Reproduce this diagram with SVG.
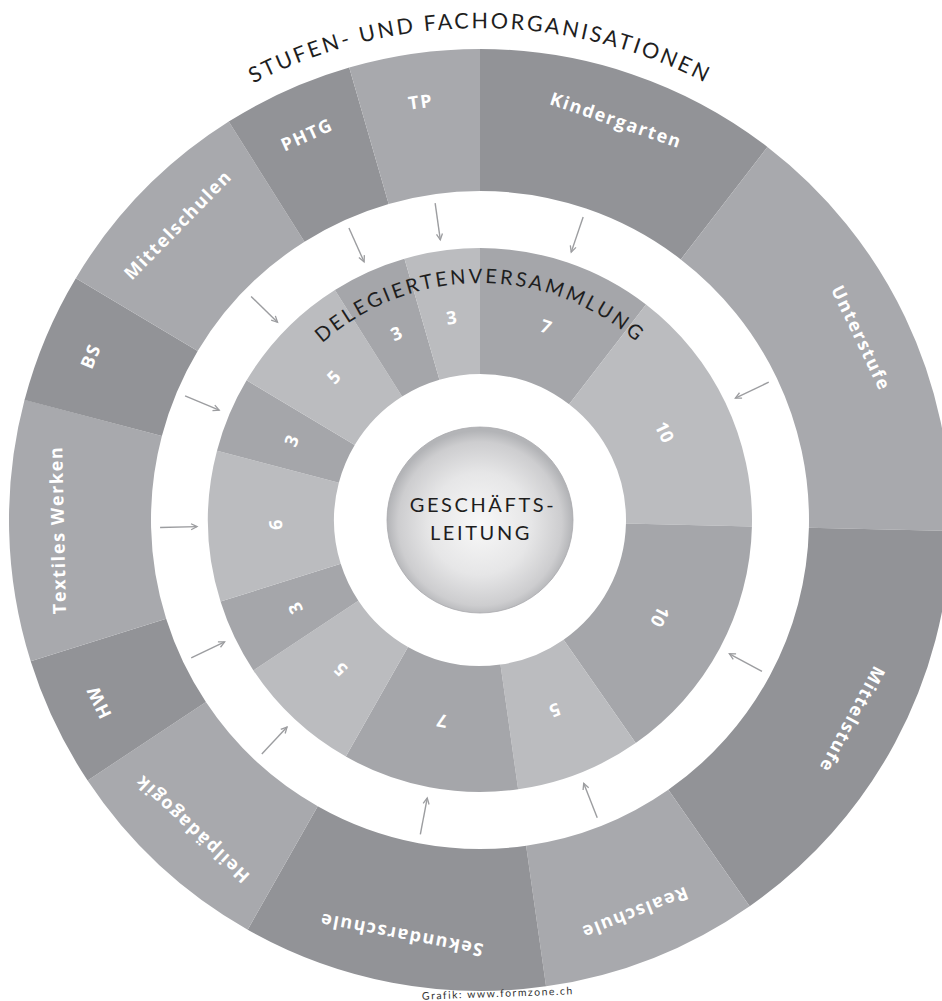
<svg xmlns="http://www.w3.org/2000/svg" width="942" height="1001" viewBox="0 0 942 1001">
<defs>
<style>
.od{fill:#929397}
.ol{fill:#a8a9ad}
.mm{fill:#a5a6aa}
.ml{fill:#bbbcbf}
.lbl{font-family:"Open Sans","DejaVu Sans",sans-serif;font-weight:700;font-size:18px;fill:#fff;letter-spacing:1.6px;text-anchor:middle}
.num{font-family:"Open Sans","DejaVu Sans",sans-serif;font-weight:700;font-size:18px;fill:#fff;text-anchor:middle}
.arc{font-family:Lato,"DejaVu Sans",sans-serif;font-size:21.5px;fill:#1e1e1e;letter-spacing:2.6px}
.ctr{font-family:Lato,"DejaVu Sans",sans-serif;font-size:20px;fill:#1e1e1e;letter-spacing:2.6px;text-anchor:middle}
.arr{stroke:#9c9da0;stroke-width:1.4;fill:none;marker-end:url(#ah)}
.cred{font-family:Lato,"Liberation Sans",sans-serif;font-size:10.5px;fill:#333;letter-spacing:1.5px;text-anchor:middle}
</style>
<marker id="ah" markerUnits="userSpaceOnUse" markerWidth="10" markerHeight="8" refX="7" refY="4" orient="auto">
<path d="M1,1 L7,4 L1,7" fill="none" stroke="#9c9da0" stroke-width="1.3"/>
</marker>
<radialGradient id="cg" cx="50%" cy="52%" r="50%">
<stop offset="0" stop-color="#f8f8f8"/>
<stop offset="0.55" stop-color="#e6e6e7"/>
<stop offset="0.88" stop-color="#cdcdcf"/>
<stop offset="1" stop-color="#b3b4b7"/>
</radialGradient>
<path id="pTop" d="M-12,520 A492,492 0 0 1 972,520"/>
<path id="pDel" d="M243,520 A237,237 0 0 1 717,520"/>
</defs>

<rect width="942" height="1001" fill="#fff"/>

<!-- outer ring -->
<g id="kindergarten" transform="translate(480 520) rotate(0)">
<path class="od" d="M0,-471A471,471 0 0 1 287.456,-373.109L200.792,-260.622A329,329 0 0 0 0,-329Z"/>
<text class="lbl" transform="rotate(18.806)" y="-416">Kindergarten</text>
</g>
<g id="unterstufe" transform="translate(480 520) rotate(37.6119)">
<path class="ol" d="M0,-471A471,471 0 0 1 379.748,-278.634L265.260,-194.629A329,329 0 0 0 0,-329Z"/>
<text class="lbl" transform="rotate(26.8657)" y="-416">Unterstufe</text>
</g>
<g id="mittelstufe" transform="translate(480 520) rotate(91.3433)">
<path class="od" d="M0,-471A471,471 0 0 1 379.748,-278.634L265.260,-194.629A329,329 0 0 0 0,-329Z"/>
<text class="lbl" transform="rotate(26.8657)" y="-416">Mittelstufe</text>
</g>
<g id="realschule" transform="translate(480 520) rotate(145.0746)">
<path class="ol" d="M0,-471A471,471 0 0 1 212.845,-420.165L148.675,-293.491A329,329 0 0 0 0,-329Z"/>
<text class="lbl" transform="rotate(13.4328)" y="-416">Realschule</text>
</g>
<g id="sekundarschule" transform="translate(480 520) rotate(171.9403)">
<path class="od" d="M0,-471A471,471 0 0 1 287.456,-373.109L200.792,-260.622A329,329 0 0 0 0,-329Z"/>
<text class="lbl" transform="rotate(18.806)" y="-416">Sekundarschule</text>
</g>
<g id="heilpaedagogik" transform="translate(480 520) rotate(209.5522)">
<path class="ol" d="M0,-471A471,471 0 0 1 212.845,-420.165L148.675,-293.491A329,329 0 0 0 0,-329Z"/>
<text class="lbl" transform="rotate(13.4328)" y="-416">Heilpädagogik</text>
</g>
<g id="hw" transform="translate(480 520) rotate(236.4179)">
<path class="od" d="M0,-471A471,471 0 0 1 130.768,-452.484L91.344,-316.066A329,329 0 0 0 0,-329Z"/>
<text class="lbl" transform="rotate(8.0597)" y="-416">HW</text>
</g>
<g id="textiles-werken" transform="translate(480 520) rotate(252.5373)">
<path class="ol" d="M0,-471A471,471 0 0 1 251.257,-398.390L175.506,-278.281A329,329 0 0 0 0,-329Z"/>
<text class="lbl" transform="rotate(16.1194)" y="-416">Textiles Werken</text>
</g>
<g id="bs" transform="translate(480 520) rotate(284.7761)">
<path class="od" d="M0,-471A471,471 0 0 1 130.768,-452.484L91.344,-316.066A329,329 0 0 0 0,-329Z"/>
<text class="lbl" transform="rotate(8.0597)" y="-416">BS</text>
</g>
<g id="mittelschulen" transform="translate(480 520) rotate(300.8955)">
<path class="ol" d="M0,-471A471,471 0 0 1 212.845,-420.165L148.675,-293.491A329,329 0 0 0 0,-329Z"/>
<text class="lbl" transform="rotate(13.4328)" y="-416">Mittelschulen</text>
</g>
<g id="phtg" transform="translate(480 520) rotate(327.7612)">
<path class="od" d="M0,-471A471,471 0 0 1 130.768,-452.484L91.344,-316.066A329,329 0 0 0 0,-329Z"/>
<text class="lbl" transform="rotate(8.0597)" y="-416">PHTG</text>
</g>
<g id="tp" transform="translate(480 520) rotate(343.8806)">
<path class="ol" d="M0,-471A471,471 0 0 1 130.768,-452.484L91.344,-316.066A329,329 0 0 0 0,-329Z"/>
<text class="lbl" transform="rotate(8.0597)" y="-416">TP</text>
</g>

<!-- middle ring: Delegiertenversammlung -->
<g id="d-kindergarten" transform="translate(480 520) rotate(0)">
<path class="mm" d="M0,-272A272,272 0 0 1 166.004,-215.469L89.105,-115.656A146,146 0 0 0 0,-146Z"/>
<text class="num" transform="rotate(18.806)" y="-198">7</text>
</g>
<g id="d-unterstufe" transform="translate(480 520) rotate(37.6119)">
<path class="ml" d="M0,-272A272,272 0 0 1 219.303,-160.909L117.714,-86.371A146,146 0 0 0 0,-146Z"/>
<text class="num" transform="rotate(26.8657)" y="-198">10</text>
</g>
<g id="d-mittelstufe" transform="translate(480 520) rotate(91.3433)">
<path class="mm" d="M0,-272A272,272 0 0 1 219.303,-160.909L117.714,-86.371A146,146 0 0 0 0,-146Z"/>
<text class="num" transform="rotate(26.8657)" y="-198">10</text>
</g>
<g id="d-realschule" transform="translate(480 520) rotate(145.0746)">
<path class="ml" d="M0,-272A272,272 0 0 1 122.917,-242.643L65.978,-130.242A146,146 0 0 0 0,-146Z"/>
<text class="num" transform="rotate(13.4328)" y="-198">5</text>
</g>
<g id="d-sekundarschule" transform="translate(480 520) rotate(171.9403)">
<path class="mm" d="M0,-272A272,272 0 0 1 166.004,-215.469L89.105,-115.656A146,146 0 0 0 0,-146Z"/>
<text class="num" transform="rotate(18.806)" y="-198">7</text>
</g>
<g id="d-heilpaedagogik" transform="translate(480 520) rotate(209.5522)">
<path class="ml" d="M0,-272A272,272 0 0 1 122.917,-242.643L65.978,-130.242A146,146 0 0 0 0,-146Z"/>
<text class="num" transform="rotate(13.4328)" y="-198">5</text>
</g>
<g id="d-hw" transform="translate(480 520) rotate(236.4179)">
<path class="mm" d="M0,-272A272,272 0 0 1 75.518,-261.307L40.535,-140.260A146,146 0 0 0 0,-146Z"/>
<text class="num" transform="rotate(8.0597)" y="-198">3</text>
</g>
<g id="d-textiles-werken" transform="translate(480 520) rotate(252.5373)">
<path class="ml" d="M0,-272A272,272 0 0 1 145.099,-230.068L77.884,-123.492A146,146 0 0 0 0,-146Z"/>
<text class="num" transform="rotate(16.1194)" y="-198">6</text>
</g>
<g id="d-bs" transform="translate(480 520) rotate(284.7761)">
<path class="mm" d="M0,-272A272,272 0 0 1 75.518,-261.307L40.535,-140.260A146,146 0 0 0 0,-146Z"/>
<text class="num" transform="rotate(8.0597)" y="-198">3</text>
</g>
<g id="d-mittelschulen" transform="translate(480 520) rotate(300.8955)">
<path class="ml" d="M0,-272A272,272 0 0 1 122.917,-242.643L65.978,-130.242A146,146 0 0 0 0,-146Z"/>
<text class="num" transform="rotate(13.4328)" y="-198">5</text>
</g>
<g id="d-phtg" transform="translate(480 520) rotate(327.7612)">
<path class="mm" d="M0,-272A272,272 0 0 1 75.518,-261.307L40.535,-140.260A146,146 0 0 0 0,-146Z"/>
<text class="num" transform="rotate(8.0597)" y="-198">3</text>
</g>
<g id="d-tp" transform="translate(480 520) rotate(343.8806)">
<path class="ml" d="M0,-272A272,272 0 0 1 75.518,-261.307L40.535,-140.260A146,146 0 0 0 0,-146Z"/>
<text class="num" transform="rotate(8.0597)" y="-198">3</text>
</g>

<!-- ring titles -->
<g id="title-outer">
<text class="arc"><textPath href="#pTop" startOffset="50%" text-anchor="middle">STUFEN- UND FACHORGANISATIONEN</textPath></text>
</g>
<g id="title-middle">
<text class="arc" style="font-size:20px;letter-spacing:2.8px"><textPath href="#pDel" startOffset="50%" text-anchor="middle">DELEGIERTENVERSAMMLUNG</textPath></text>
</g>

<!-- centre -->
<g id="geschaeftsleitung">
<circle cx="480" cy="520" r="93" fill="url(#cg)" stroke="#a9aaad" stroke-width="0.8"/>
<text class="ctr" x="483" y="512">GESCHÄFTS-</text>
<text class="ctr" x="481" y="540">LEITUNG</text>
</g>

<!-- connectors -->
<g id="connectors">
<line class="arr" x1="0" y1="-320" x2="0" y2="-283" transform="translate(480 520) rotate(18.806)"/>
<line class="arr" x1="0" y1="-320" x2="0" y2="-283" transform="translate(480 520) rotate(64.4776)"/>
<line class="arr" x1="0" y1="-320" x2="0" y2="-283" transform="translate(480 520) rotate(118.209)"/>
<line class="arr" x1="0" y1="-320" x2="0" y2="-283" transform="translate(480 520) rotate(158.5075)"/>
<line class="arr" x1="0" y1="-320" x2="0" y2="-283" transform="translate(480 520) rotate(190.7463)"/>
<line class="arr" x1="0" y1="-320" x2="0" y2="-283" transform="translate(480 520) rotate(222.9851)"/>
<line class="arr" x1="0" y1="-320" x2="0" y2="-283" transform="translate(480 520) rotate(244.4776)"/>
<line class="arr" x1="0" y1="-320" x2="0" y2="-283" transform="translate(480 520) rotate(268.6567)"/>
<line class="arr" x1="0" y1="-320" x2="0" y2="-283" transform="translate(480 520) rotate(292.8358)"/>
<line class="arr" x1="0" y1="-320" x2="0" y2="-283" transform="translate(480 520) rotate(314.3284)"/>
<line class="arr" x1="0" y1="-320" x2="0" y2="-283" transform="translate(480 520) rotate(335.8209)"/>
<line class="arr" x1="0" y1="-320" x2="0" y2="-283" transform="translate(480 520) rotate(351.9403)"/>
</g>

<text class="cred" x="498" y="997" transform="rotate(-2 498 997)">Grafik: www.formzone.ch</text>
</svg>
